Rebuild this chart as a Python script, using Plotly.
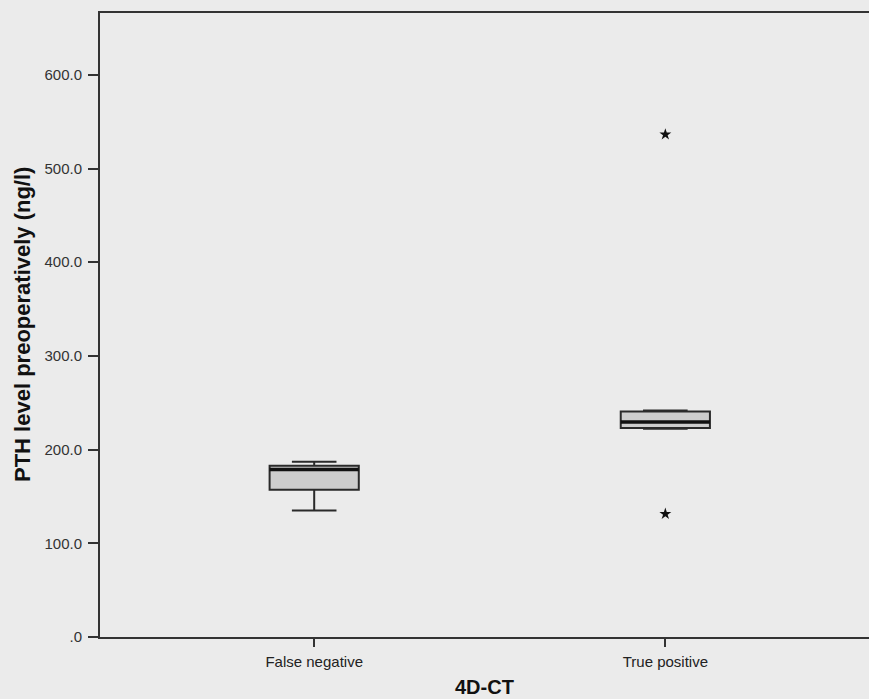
import plotly.graph_objects as go

categories = ["False negative", "True positive"]
q1 = [157.1, 223.0]
median = [178.8, 229.4]
q3 = [182.7, 240.8]
lower_whisker = [135.0, 222.3]
upper_whisker = [187.0, 241.8]
outlier_group = [1, 1]
outlier_values = [536.4, 131.4]
y_ticks = [0, 100, 200, 300, 400, 500, 600]
y_ticktext = [".0", "100.0", "200.0", "300.0", "400.0", "500.0", "600.0"]

xpos = list(range(len(categories)))
box_w = 0.254

fig = go.Figure()
fig.add_trace(go.Box(
    x=xpos, q1=q1, median=median, q3=q3,
    lowerfence=lower_whisker, upperfence=upper_whisker,
    width=box_w, whiskerwidth=0.5,
    fillcolor="#cdcdcd", line=dict(color="#2a2a2a", width=2),
    boxpoints=False, hoverinfo="skip", showlegend=False,
))
# thick median lines
for i, m in zip(xpos, median):
    fig.add_trace(go.Scatter(
        x=[i - box_w / 2, i + box_w / 2], y=[m, m], mode="lines",
        line=dict(color="#111111", width=3.5), showlegend=False, hoverinfo="skip",
    ))
fig.add_trace(go.Scatter(
    x=outlier_group, y=outlier_values, mode="markers",
    marker=dict(symbol="star", size=9, color="#111111"),
    showlegend=False, hoverinfo="skip",
))

fig.update_layout(
    width=869, height=699,
    margin=dict(l=100, r=0, t=13, b=62),
    paper_bgcolor="#ebebeb", plot_bgcolor="#ebebeb",
    font=dict(family="Liberation Sans, Arial, sans-serif", size=15, color="#333333"),
    xaxis=dict(
        range=[-0.61, 1.58], tickvals=xpos, ticktext=categories,
        showgrid=False, zeroline=False, showline=True, linecolor="#333333", linewidth=2,
        mirror=True, ticks="outside", ticklen=8, tickwidth=2, tickcolor="#333333",
        tickfont=dict(size=15, color="#222222"), ticklabelstandoff=2,
    ),
    yaxis=dict(
        range=[0, 666], tickvals=y_ticks, ticktext=y_ticktext,
        showgrid=False, zeroline=False, showline=True, linecolor="#333333", linewidth=2,
        ticks="outside", ticklen=10, tickwidth=2, tickcolor="#333333",
        tickfont=dict(size=15, color="#333333"), ticklabelstandoff=3,
    ),
    annotations=[
        dict(text="<b>4D-CT</b>", xref="paper", yref="paper", x=0.5, y=0,
             xanchor="center", yanchor="middle", yshift=-50, showarrow=False,
             font=dict(size=20, color="#111111")),
        dict(text="<b>PTH level preoperatively (ng/l)</b>", xref="paper", yref="paper",
             x=0, xshift=-78, y=0.5, xanchor="center", yanchor="middle",
             textangle=-90, showarrow=False,
             font=dict(size=22, color="#111111")),
    ],
)

fig.write_html(
    "out.html",
    config={"displayModeBar": False},
    post_script="document.body.style.margin='0';document.body.style.background='#ebebeb';",
)
